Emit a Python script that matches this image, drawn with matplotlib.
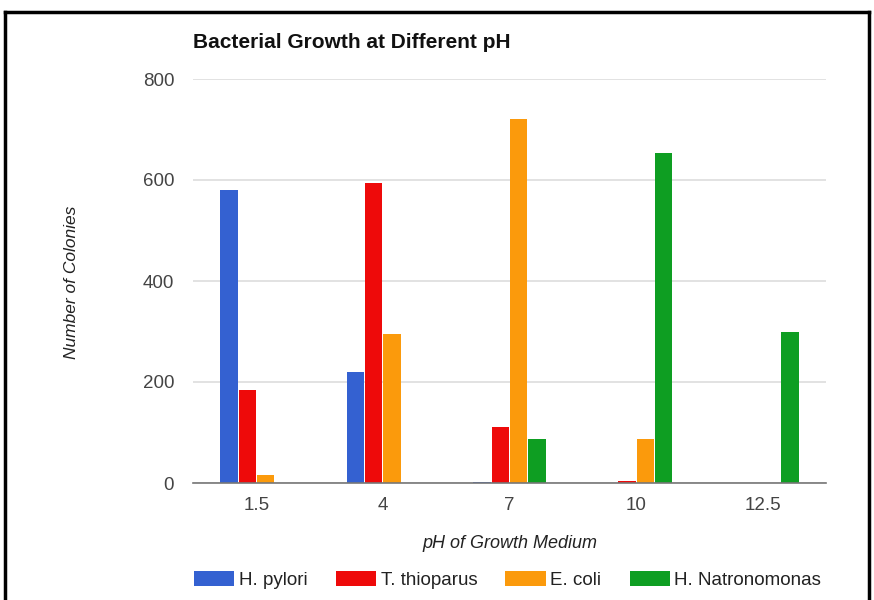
import numpy as np
import matplotlib
matplotlib.use("Agg")
import matplotlib.pyplot as plt
from matplotlib.lines import Line2D

# ---- data ----
ph_labels = ["1.5", "4", "7", "10", "12.5"]
series_names = ["H. pylori", "T. thioparus", "E. coli", "H. Natronomonas"]
h_pylori = [580, 220, 2, 0, 0]
t_thioparus = [185, 595, 110, 4, 0]
e_coli = [15, 295, 720, 88, 0]
h_natronomonas = [0, 0, 88, 653, 300]
colors = ["#3461d1", "#ee0a0a", "#fb9a0c", "#0e9e22"]

plt.rcParams["font.family"] = ["Liberation Sans", "DejaVu Sans"]

W, H = 874, 600
fig = plt.figure(figsize=(W / 100, H / 100), dpi=100)
ax = fig.add_axes([193 / W, 1 - 483 / H, (826 - 193) / W, (483 - 79) / H])

x = np.arange(len(ph_labels))
bar_w = 0.144
all_series = [h_pylori, t_thioparus, e_coli, h_natronomonas]
for i, (vals, name, col) in enumerate(zip(all_series, series_names, colors)):
    ax.bar(x + (i - 1.5) * bar_w, vals, width=bar_w * 0.95, color=col, label=name, zorder=3)

ax.set_xlim(-0.5, len(ph_labels) - 0.5)
ax.set_ylim(0, 800)
ax.set_yticks([0, 200, 400, 600, 800])
ax.set_xticks(x)
ax.set_xticklabels(ph_labels)
ax.grid(axis="y", color="#dddddd", linewidth=1.2, zorder=0)
ax.set_axisbelow(True)
for s in ["top", "right", "left"]:
    ax.spines[s].set_visible(False)
ax.spines["bottom"].set_color("#777777")
ax.spines["bottom"].set_linewidth(1.2)
ax.spines["bottom"].set_zorder(4)
ax.tick_params(axis="both", length=0, labelsize=13.5, colors="#444444")
ax.tick_params(axis="y", pad=13.5)
ax.tick_params(axis="x", pad=10)

fig.text(193 / W, 1 - 42 / H, "Bacterial Growth at Different pH", fontsize=15,
         fontweight="bold", color="#111111", va="center", ha="left")
fig.text(72 / W, 1 - 282 / H, "Number of Colonies", fontsize=12.5, style="italic",
         rotation=90, va="center", ha="center", color="#222222")
fig.text(510 / W, 1 - 543 / H, "pH of Growth Medium", fontsize=13, style="italic",
         va="center", ha="center", color="#222222")

leg = fig.legend(loc="center left", bbox_to_anchor=(177 / W, 1 - 580 / H), ncol=4,
                 frameon=False, fontsize=13.5, handlelength=2.15, handleheight=0.9,
                 handletextpad=0.25, columnspacing=1.5)
for t in leg.get_texts():
    t.set_color("#222222")

# black frame (top, left, right)
fig.add_artist(Line2D([5 / W, 869 / W], [1 - 12 / H, 1 - 12 / H], color="black", linewidth=2.5))
fig.add_artist(Line2D([5 / W, 5 / W], [0, 1 - 12 / H], color="black", linewidth=2.5))
fig.add_artist(Line2D([869 / W, 869 / W], [0, 1 - 12 / H], color="black", linewidth=2.5))

fig.savefig("out.png", dpi=100)
